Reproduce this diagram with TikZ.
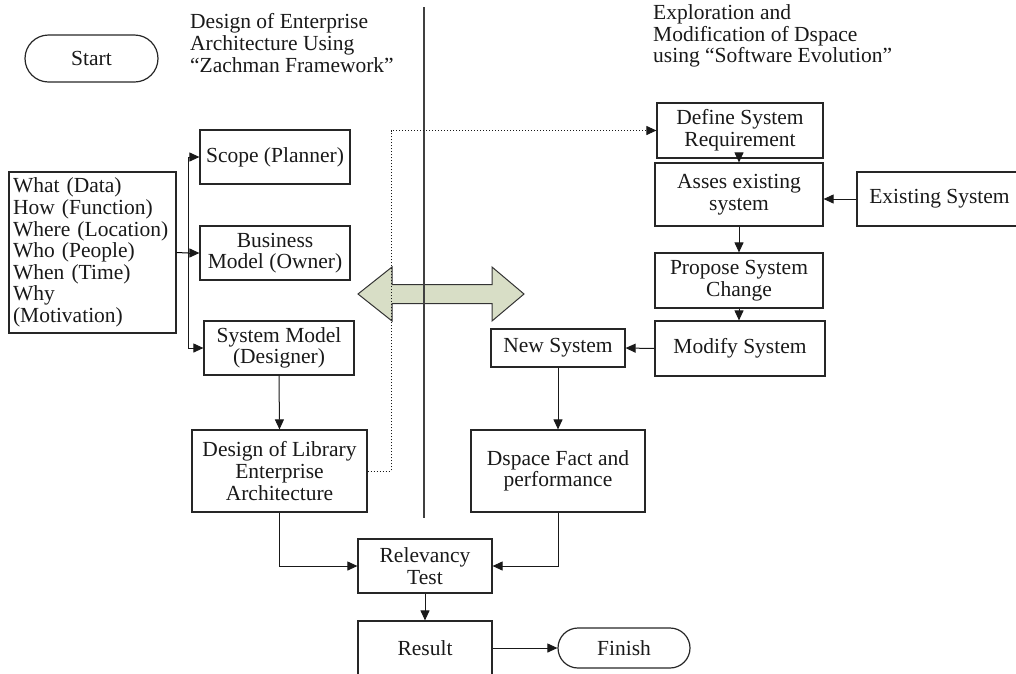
\documentclass[tikz,border=0pt]{standalone}
\usepackage{fontspec}
\setmainfont{Liberation Serif}
\usetikzlibrary{arrows.meta,shapes.misc}
\definecolor{arrowfill}{RGB}{216,222,198}
\tikzset{
  txt/.style={font=\fontsize{21.5}{21.6}\selectfont, text=black!90},
  box/.style={txt, draw=black!85, line width=1.2pt, align=center, inner sep=0pt},
  term/.style={txt, draw=black!85, line width=1.2pt, rounded rectangle, inner sep=0pt},
  arr/.style={-{Triangle[length=10pt,width=9pt]}, line width=1pt, draw=black!90},
}
\begin{document}
\begin{tikzpicture}[x=1pt,y=-1pt]
\useasboundingbox (0,0) rectangle (1016,673);
% double arrow (drawn first)
\draw[fill=arrowfill, draw=black!80, line width=1pt]
  (358,294) -- (392,267) -- (392,284.5) -- (492,284.5) -- (492,267) -- (524,294)
  -- (492,321) -- (492,303.5) -- (392,303.5) -- (392,321) -- cycle;
% divider
\coordinate (divtop) at (424,7);
\coordinate (divbot) at (424,518);
\draw[line width=1.2pt, draw=black!75] (divtop) -- (divbot);
% titles
\node[txt, anchor=north west, inner sep=0pt, align=left] (title1) at (190,13.5)
  {Design of Enterprise\\Architecture Using\\“Zachman Framework”};
\node[txt, anchor=north west, inner sep=0pt, align=left] (title2) at (653,4.5)
  {Exploration and\\Modification of Dspace\\using “Software Evolution”};
% terminals
\node[term, minimum width=133pt, minimum height=47pt] (start) at (91.5,58.5) {Start};
\node[term, minimum width=132pt, minimum height=40pt] (finish) at (624,648) {Finish};
% left side
\node[box, align=left, text width=159pt, inner xsep=4pt, minimum height=161pt] (what) at (92.5,252.5)
  {What (Data)\\How (Function)\\Where (Location)\\Who (People)\\When (Time)\\Why\\(Motivation)};
\node[box, minimum width=150pt, minimum height=54pt] (scope) at (275,157) {Scope (Planner)};
\node[box, minimum width=150pt, minimum height=54pt] (business) at (275,253) {Business\\Model (Owner)};
\node[box, minimum width=150pt, minimum height=54pt] (sysmodel) at (279,348) {System Model\\(Designer)};
\node[box, minimum width=175pt, minimum height=82pt] (design) at (279.5,471) {Design of Library\\Enterprise\\Architecture};
% right side
\node[box, minimum width=166pt, minimum height=55pt] (define) at (740,130.5) {Define System\\Requirement};
\node[box, minimum width=168pt, minimum height=63pt] (asses) at (739,194.5) {Asses existing\\system};
\node[box, minimum width=165pt, minimum height=54pt] (existing) at (939.5,199) {Existing System};
\node[box, minimum width=168pt, minimum height=55pt] (propose) at (739,280.5) {Propose System\\Change};
\node[box, minimum width=170pt, minimum height=55pt] (modify) at (740,348.5) {Modify System};
\node[box, minimum width=134pt, minimum height=38pt] (newsys) at (558,348) {New System};
\node[box, minimum width=174pt, minimum height=82pt] (dspace) at (558,471) {Dspace Fact and\\performance};
% bottom
\node[box, minimum width=134pt, minimum height=54pt] (relev) at (425,566) {Relevancy\\Test};
\node[box, minimum width=134pt, minimum height=54pt] (result) at (425,648) {Result};
% connectors
\coordinate (trunk) at (188,253);
\draw[line width=1pt] (what.east) -- (trunk);
\draw[arr] (trunk) |- (scope.west);
\draw[arr] (trunk) -- (business.west);
\draw[arr] (trunk) |- (sysmodel.west);
\draw[arr] (sysmodel.south) -- (design.north);
\coordinate (dotA) at (391,471);
\coordinate (dotB) at (391,130.5);
\draw[arr, dotted, line width=1pt] (design.east) -- (dotA) -- (dotB) -- (define.west);
\draw[arr] (define.south -| asses.north) -- (asses.north);
\draw[arr] (existing.west) -- (existing.west -| asses.east);
\draw[arr] (asses.south) -- (propose.north);
\draw[arr] (propose.south) -- (propose.south |- modify.north);
\draw[arr] (modify.west) -- (newsys.east);
\draw[arr] (newsys.south) -- (dspace.north);
\draw[arr] (design.south) |- (relev.west);
\draw[arr] (dspace.south) |- (relev.east);
\draw[arr] (relev.south) -- (result.north);
\draw[arr] (result.east) -- (finish.west);
\end{tikzpicture}
\end{document}
